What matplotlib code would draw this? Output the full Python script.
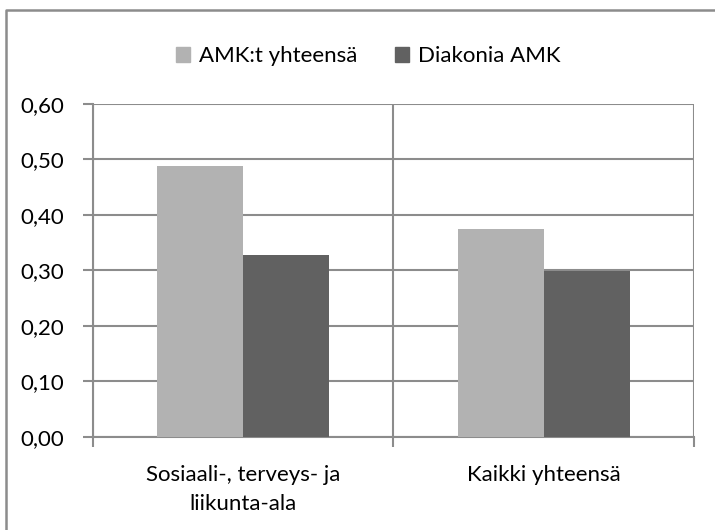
import matplotlib
matplotlib.use("Agg")
import matplotlib.pyplot as plt
import numpy as np
from matplotlib.patches import Patch
from matplotlib.lines import Line2D

plt.rcParams['font.family'] = ['Lato', 'DejaVu Sans']

categories = ['Sosiaali-, terveys- ja\nliikunta-ala', 'Kaikki yhteensä']
series_names = ['AMK:t yhteensä', 'Diakonia AMK']
amk_total = [0.488, 0.375]
diakonia = [0.328, 0.299]
yticks = [0.0, 0.1, 0.2, 0.3, 0.4, 0.5, 0.6]
colors = ['#b2b2b2', '#616161']
grid_col = '#8c8c8c'
fs = 16

fig = plt.figure(figsize=(7.15, 5.3), dpi=100)
ax = fig.add_axes([0.130, 0.1755, 0.8406, 0.6283])

x = np.arange(len(categories))
w = 1 / 3.5
ax.bar(x - w / 2, amk_total, w, color=colors[0], zorder=3)
ax.bar(x + w / 2, diakonia, w, color=colors[1], zorder=3)

ax.set_xlim(-0.5, len(categories) - 0.5)
ax.set_ylim(0, 0.6)
ax.set_yticks(yticks)
ax.set_yticklabels([f'{v:.2f}'.replace('.', ',') for v in yticks], fontsize=fs)
ax.set_xticks(x)
ax.set_xticklabels(categories, fontsize=fs, linespacing=1.55)
ax.set_xticks(np.arange(-0.5, len(categories)), minor=True)

ax.tick_params(axis='x', which='major', length=0, pad=20)
ax.tick_params(axis='x', which='minor', length=7, width=1.5, color=grid_col, direction='out')
ax.tick_params(axis='y', length=7, width=1.5, color=grid_col, direction='out', pad=14)

ax.grid(axis='y', color=grid_col, linewidth=1.5, zorder=1)
ax.grid(axis='x', which='minor', color=grid_col, linewidth=1.5, zorder=1)
ax.grid(axis='x', which='major', visible=False)

for s in ['top', 'right']:
    ax.spines[s].set_visible(False)
for s in ['left', 'bottom']:
    ax.spines[s].set_color(grid_col)
    ax.spines[s].set_linewidth(1.5)

handles = [Patch(color=c) for c in colors]
fig.legend(handles, series_names, loc='center', bbox_to_anchor=(0.515, 0.894),
           ncol=2, frameon=False, fontsize=fs, handlelength=0.65, handleheight=0.65,
           handletextpad=0.4, columnspacing=1.7)

# chart border (only top and left visible in the crop)
fig.add_artist(Line2D([6 / 715, 6 / 715, 1.0], [0.0, 1 - 10 / 530, 1 - 10 / 530],
                      transform=fig.transFigure, color=grid_col, linewidth=1.8))

fig.savefig('out.png', dpi=100)
